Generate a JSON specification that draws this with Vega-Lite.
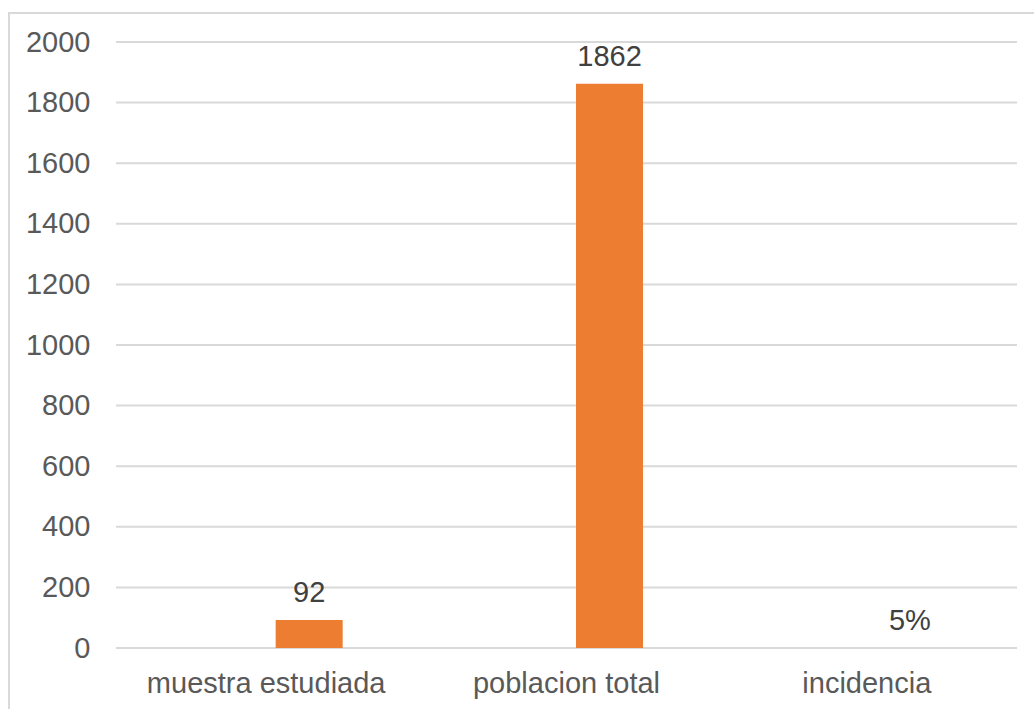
{
  "$schema": "https://vega.github.io/schema/vega-lite/v6.json",
  "autosize": "none",
  "width": 1028,
  "height": 699,
  "padding": {"left": 9, "top": 13, "right": -3, "bottom": -3},
  "background": "#ffffff",
  "config": {
    "view": {"stroke": "#d9d9d9", "strokeWidth": 2},
    "font": "Liberation Sans"
  },
  "datasets": {
    "bars": [
      {"categoria": "muestra estudiada", "valor": 92, "etiqueta": "92"},
      {"categoria": "poblacion total", "valor": 1862, "etiqueta": "1862"},
      {"categoria": "incidencia", "valor": 0.05, "etiqueta": "5%"}
    ],
    "grid": [
      {"v": 0}, {"v": 200}, {"v": 400}, {"v": 600}, {"v": 800}, {"v": 1000},
      {"v": 1200}, {"v": 1400}, {"v": 1600}, {"v": 1800}, {"v": 2000}
    ]
  },
  "resolve": {"scale": {"x": "independent"}, "axis": {"x": "independent"}},
  "layer": [
    {
      "data": {"name": "grid"},
      "mark": {"type": "rule", "stroke": "#d9d9d9", "strokeWidth": 2},
      "encoding": {
        "y": {
          "field": "v",
          "type": "quantitative",
          "scale": {"domain": [0, 2000], "range": [635, 29], "nice": false, "zero": true},
          "axis": {
            "title": null,
            "values": [0, 200, 400, 600, 800, 1000, 1200, 1400, 1600, 1800, 2000],
            "format": "d",
            "offset": -107,
            "domain": false,
            "ticks": false,
            "tickSize": 0,
            "grid": false,
            "labelPadding": 26,
            "labelFontSize": 29,
            "labelColor": "#595959",
            "labelFont": "Liberation Sans"
          }
        },
        "x": {
          "datum": 0,
          "type": "quantitative",
          "scale": {"domain": [0, 1], "range": [107, 1008], "nice": false, "zero": false},
          "axis": null
        },
        "x2": {"datum": 1}
      }
    },
    {
      "data": {"name": "bars"},
      "encoding": {
        "x": {
          "field": "categoria",
          "type": "nominal",
          "sort": null,
          "scale": {"range": [107, 1008], "paddingInner": 0, "paddingOuter": 0},
          "axis": {
            "title": null,
            "offset": -64,
            "domain": false,
            "ticks": false,
            "tickSize": 0,
            "grid": false,
            "labelAngle": 0,
            "labelLimit": 0,
            "labelPadding": 21,
            "labelFontSize": 29,
            "labelColor": "#595959",
            "labelFont": "Liberation Sans"
          }
        },
        "y": {"field": "valor", "type": "quantitative"}
      },
      "layer": [
        {
          "mark": {"type": "bar", "color": "#ed7d31", "width": 67, "xOffset": 43}
        },
        {
          "mark": {
            "type": "text",
            "xOffset": 43,
            "dy": -18,
            "baseline": "alphabetic",
            "align": "center",
            "fontSize": 29,
            "color": "#404040",
            "font": "Liberation Sans"
          },
          "encoding": {"text": {"field": "etiqueta"}}
        }
      ]
    }
  ]
}
